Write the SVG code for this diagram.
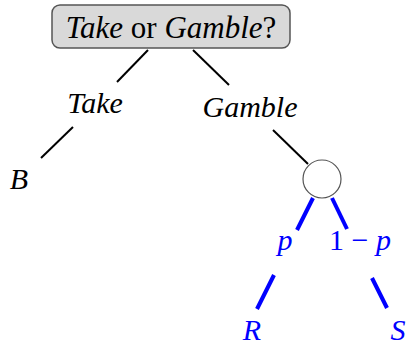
<svg xmlns="http://www.w3.org/2000/svg" width="407" height="345" viewBox="0 0 407 345">
<style>
.t{font-family:"Liberation Serif","Times New Roman",serif;font-size:30px;font-style:italic;fill:#000}
.r{font-style:normal}
.b{fill:#0000ff}
.k{stroke:#000;stroke-width:2;fill:none}
.bl{stroke:#0000ff;stroke-width:4;fill:none}
</style>
<rect width="407" height="345" fill="#fff"/>
<g id="connectors">
<line class="k" x1="148" y1="50" x2="117" y2="82"/>
<line class="k" x1="193" y1="50" x2="229" y2="85"/>
<line class="k" x1="73" y1="127" x2="41" y2="158"/>
<line class="k" x1="273" y1="130" x2="308" y2="164"/>
<line class="bl" x1="313" y1="198" x2="297" y2="230"/>
<line class="bl" x1="332" y1="198" x2="347" y2="229"/>
<line class="bl" x1="274" y1="275" x2="257" y2="309"/>
<line class="bl" x1="372" y1="278" x2="387" y2="308"/>
</g>
<g id="root">
<rect x="52" y="5" width="238" height="43" rx="8" fill="#d9d9d9" stroke="#555" stroke-width="1.5"/>
<text class="t" x="171" y="38" text-anchor="middle" style="font-size:31px">Take<tspan class="r"> or </tspan>Gamble<tspan class="r">?</tspan></text>
</g>
<g id="take"><text class="t" x="95" y="113" text-anchor="middle">Take</text></g>
<g id="gamble"><text class="t" x="250" y="117" text-anchor="middle">Gamble</text></g>
<g id="B"><text class="t" x="19" y="189" text-anchor="middle">B</text></g>
<g id="chance"><circle cx="322" cy="179" r="19" fill="#fff" stroke="#555" stroke-width="1.2"/></g>
<g id="p"><text class="t b" x="285" y="250" text-anchor="middle">p</text></g>
<g id="q"><text class="t b" x="360" y="250" text-anchor="middle"><tspan class="r">1 − </tspan>p</text></g>
<g id="R"><text class="t b" x="252" y="340" text-anchor="middle">R</text></g>
<g id="S"><text class="t b" x="398" y="340" text-anchor="middle">S</text></g>
</svg>
